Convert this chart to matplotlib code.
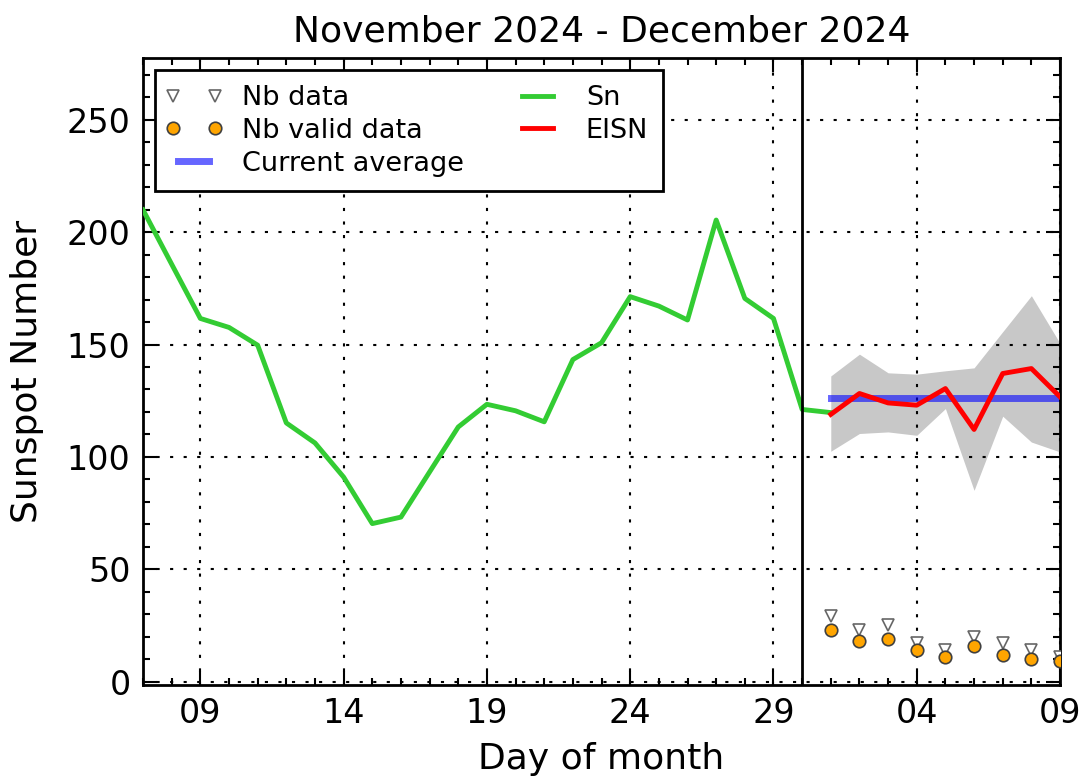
import matplotlib
matplotlib.use('Agg')
import matplotlib.pyplot as plt
import matplotlib.dates as mdates
from matplotlib.ticker import MultipleLocator
from matplotlib.legend_handler import HandlerLine2D
import numpy as np
import pandas as pd

# jours affiches
days = pd.date_range('2024-11-07', '2024-12-09', freq='D')

# Sn du 07/11 au 01/12
sn = [209.9, 185.7, 161.6, 157.6, 149.7, 115.1, 106.2, 91.0, 70.3, 73.2,
      93.3, 113.3, 123.4, 120.5, 115.6, 143.3, 150.8, 171.3, 167.1, 160.9,
      205.4, 170.5, 161.6, 121.1, 119.7]

# EISN du 01/12 au 09/12
eisn = [118.9, 128.2, 124.0, 123.0, 130.4, 112.2, 137.1, 139.3, 126.7]
eisn_high = [136.0, 145.7, 137.4, 136.8, 138.3, 139.6, 155.7, 171.7, 150.5]
eisn_low = [102.5, 110.4, 111.1, 109.6, 121.5, 85.1, 118.1, 106.6, 102.2]
current_avg = 126.2

nb_data = [29, 23, 25, 17, 14, 20, 17, 14, 11]
nb_valid = [23, 18, 19, 14, 11, 16, 12, 10, 9]

title = 'November 2024 - December 2024'

sn_days = days[:len(sn)]
eisn_days = days[-len(eisn):]
tick_days = days[2::5]

fig = plt.figure(figsize=(10.82, 7.76), dpi=100)
ax = fig.add_axes([0.1322, 0.1173, 0.8475, 0.808])

ax.fill_between(eisn_days, eisn_low, eisn_high, color='#c8c8c8', lw=0, zorder=1)
p_data, = ax.plot(eisn_days, nb_data, 'v', mfc='white', mec='0.4', ms=8, mew=1.2,
                  label='Nb data', zorder=4)
p_valid, = ax.plot(eisn_days, nb_valid, 'o', mfc='#ffa500', mec='0.25', ms=9, mew=1.2,
                   label='Nb valid data', zorder=5)
ax.plot([eisn_days[0], eisn_days[-1]], [current_avg, current_avg], color='b',
        alpha=0.6, lw=5, label='Current average', zorder=2)
ax.plot(sn_days, sn, color='#33cc33', lw=3.5, label='Sn', zorder=3)
ax.plot(eisn_days, eisn, color='red', lw=3.5, label='EISN', zorder=3)
ax.axvline(pd.Timestamp('2024-11-30'), color='black', lw=2, zorder=3)

ax.set_xlim(days[0], days[-1])
ax.set_ylim(-1.5, 277.5)
ax.set_xticks(tick_days)
ax.xaxis.set_major_formatter(mdates.DateFormatter('%d'))
ax.xaxis.set_minor_locator(mdates.DayLocator())
ax.set_yticks([0, 50, 100, 150, 200, 250])
ax.yaxis.set_minor_locator(MultipleLocator(10))

ax.tick_params(which='both', direction='in', top=True, right=True, width=1.5)
ax.tick_params(which='major', length=10, labelsize=24, pad=9)
ax.tick_params(which='minor', length=5)
ax.grid(True, which='major', color='black', linestyle=(0, (1.5, 5)), lw=1.5)
for s in ax.spines.values():
    s.set_linewidth(2)

ax.set_xlabel('Day of month', fontsize=26, labelpad=8)
ax.set_ylabel('Sunspot Number', fontsize=26, labelpad=16)
ax.set_title(title, fontsize=26, pad=12)

mk = HandlerLine2D(marker_pad=0.1)
leg = ax.legend(loc='upper left', ncol=2, numpoints=2, fontsize=19.5,
                fancybox=False, framealpha=1, edgecolor='black',
                handlelength=1.75, handletextpad=0.9, columnspacing=1.85,
                borderaxespad=0.45, labelspacing=0.25, borderpad=0.55,
                handler_map={p_data: mk, p_valid: mk})
leg.get_frame().set_linewidth(2)

fig.savefig('out.png', dpi=100, facecolor='white')
